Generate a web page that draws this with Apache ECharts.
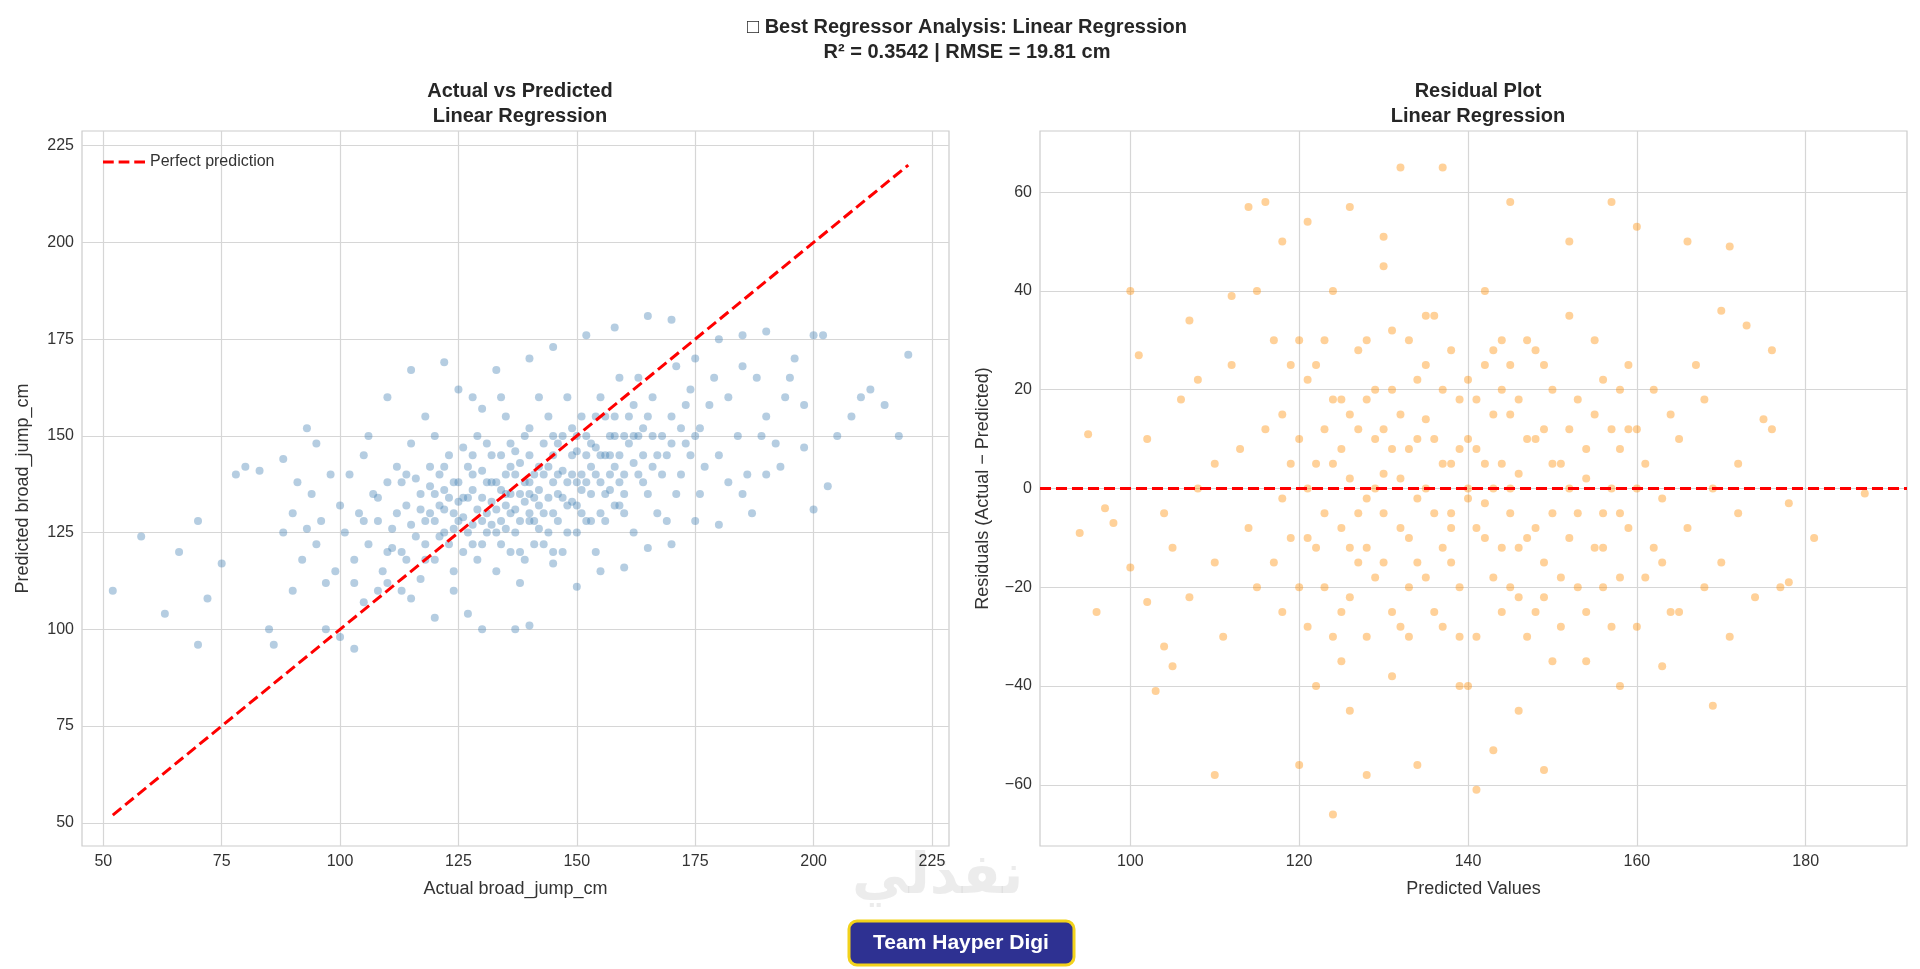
<!DOCTYPE html>
<html>
<head>
<meta charset="utf-8">
<script src="https://cdn.jsdelivr.net/npm/echarts@6/dist/echarts.min.js"></script>
<style>html,body{margin:0;padding:0;background:#fff}#main{width:1920px;height:969px}</style>
</head>
<body>
<div id="main"></div>
<script>
// values: [actual, predicted]
var avp = [
 [52,110],[58,124],[63,104],[66,120],[70,96],[70,128],[72,108],[75,117],[78,140],[80,142],[83,141],[85,100],[86,96],[88,144],[90,110],[93,152],[95,148],[97,100],[100,98],[103,95],[105,107],[108,110],[110,160],[115,167],[122,169],[125,162],[128,160],[130,157],[133,167],[140,170],[145,173],[152,176],[158,178],[165,181],[170,180],[175,170],[180,175],[185,176],[190,177],[195,165],[200,176],[202,176],[203,137],[200,131],[205,150],[210,160],[215,158],[218,150],[220,171],[208,155],[212,162],[198,147],[190,140],[185,135],[180,127],[175,128],[170,122],[165,121],[160,116],[155,115],[150,111],[145,117],[140,101],[137,100],[130,100],[127,104],[124,110],[120,103],[115,108],[113,110],[110,120],
 [88,125],[90,130],[92,118],[94,135],[95,122],[96,128],[98,140],[99,115],[100,132],[97,112],[91,138],[93,126],
 [101,125],[102,140],[103,118],[104,130],[105,145],[106,122],[107,135],[108,128],[109,115],[110,138],[111,126],[112,142],[113,120],[114,132],[115,148],[103,112],[106,150],[110,112],[114,118],[112,130],
 [116,124],[117,135],[118,128],[119,142],[120,118],[121,132],[122,125],[123,145],[124,130],[125,138],[126,120],[127,134],[128,127],[129,150],[130,122],[118,155],[121,140],[124,115],[126,147],[128,136],[117,113],[119,130],[122,136],[125,128],[127,142],[129,118],[123,122],[120,150],[116,139],[130,141],
 [131,130],[132,138],[133,125],[134,145],[135,132],[136,120],[137,140],[138,128],[139,150],[140,135],[141,122],[142,142],[143,130],[144,155],[145,138],[131,148],[133,115],[135,155],[137,125],[139,118],[140,145],[142,132],[144,125],[132,127],[134,136],[136,142],[138,135],[141,128],[143,148],[145,120],[134,160],[138,112],[142,160],[136,130],[140,138],
 [146,140],[147,150],[148,132],[149,145],[150,138],[151,155],[152,128],[153,148],[154,140],[155,160],[156,135],[157,150],[158,142],[159,165],[160,130],[148,160],[150,125],[152,145],[154,120],[156,155],[158,132],[146,128],[149,152],[153,135],[157,140],[160,150],[155,145],[151,140],[147,120],[159,138],
 [161,148],[162,158],[163,140],[164,152],[165,135],[166,160],[167,145],[168,150],[169,128],[170,155],[172,140],[174,162],[175,150],[176,135],[178,158],[180,145],[163,165],[167,130],[171,168],[173,148],[177,142],[179,165],[162,125],[166,142],
 [182,160],[184,150],[186,140],[188,165],[190,155],[192,148],[194,160],[196,170],[198,158],[185,168],[187,130],[193,142],[182,138],[189,150],
 [105,128],[108,134],[111,121],[113,138],[115,127],[117,131],[118,122],[119,137],[120,128],[121,124],[122,131],[123,134],[124,126],[125,133],[126,129],[127,125],[128,140],[129,131],[130,134],[131,125],[132,133],[133,138],[134,128],[135,140],[136,135],[137,131],[138,143],[139,133],[140,128],[141,140],[142,136],[143,140],[144,134],[145,145],[146,135],[147,141],[148,138],[149,133],[150,146],[151,136],[152,150],[153,142],[154,147],[155,138],[156,145],[157,136],[158,150],[159,145],[160,140],[161,155],[162,143],[163,150],[164,145],[165,155],[168,140],[170,148],[172,152],[174,145],
 [114,140],[118,118],[120,135],[122,142],[124,138],[126,134],[128,122],[130,128],[132,145],[134,122],[136,148],[138,120],[140,152],[142,126],[144,142],[146,148],[148,125],[150,132],[152,138],[154,155],[156,128],[158,155],[160,135],[162,150],[164,138],[166,150],[169,145],[171,135],[173,158],[176,152],
 [128,145],[131,138],[133,131],[135,126],[137,146],[139,138],[141,134],[143,122],[145,130],[147,134],[149,140],[151,130],[153,128],[155,130],[157,145],[159,132],[135,135],[140,130],[145,150],[150,150]
];
// [predicted, residual]
var resid = [
 [94,-9],[95,11],[96,-25],[97,-4],[98,-7],[100,40],[100,-16],[101,27],[102,-23],[103,-41],[104,-32],[105,-36],[107,34],[110,-58],[112,39],[114,57],[116,58],[118,50],[120,-56],[121,54],[124,-66],[126,57],[128,-58],[130,51],[132,65],[134,-56],[137,65],[141,-61],[143,-53],[145,58],[149,-57],[152,50],[157,58],[158,-40],[160,53],[163,-36],[166,50],[169,-44],[171,49],[173,33],[176,28],[177,-20],[178,-19],[181,-10],[187,-1],[170,36],[168,-20],[165,-25],[175,14],[172,-5],
 [102,10],[104,-5],[106,18],[108,0],[110,-15],[112,25],[114,-8],[116,12],[118,-25],[119,5],[105,-12],[108,22],[111,-30],[113,8],[115,-20],[117,30],[118,-2],[110,5],[107,-22],[115,40],
 [120,10],[121,-10],[122,25],[123,-20],[124,5],[125,-35],[126,15],[127,-5],[128,30],[129,0],[130,-15],[131,20],[132,-28],[133,8],[134,-2],[135,35],[122,-40],[124,40],[126,-12],[128,18],[130,3],[132,-8],[134,22],[121,0],[123,12],[125,-25],[127,28],[129,-18],[131,-38],[133,-10],[135,14],[126,-45],[130,45],[133,30],[128,-30],
 [136,-5],[137,20],[138,5],[139,-20],[140,10],[141,-30],[142,25],[143,0],[144,-12],[145,15],[146,-22],[147,30],[148,-8],[149,12],[150,-35],[136,35],[138,-15],[140,-40],[142,40],[144,20],[146,3],[148,-25],[137,-28],[139,18],[141,8],[143,-18],[145,-5],[147,10],[149,-15],[138,28],[140,-2],[142,-10],[144,30],[146,-45],[150,20],
 [151,5],[152,-10],[153,18],[154,-25],[155,30],[156,-5],[157,12],[158,-18],[159,25],[160,0],[162,-12],[164,15],[152,35],[154,-35],[156,22],[158,8],[160,-28],[162,20],[163,-2],[165,10],
 [166,-8],[168,18],[170,-15],[172,5],[174,-22],[176,12],[178,-3],[167,25],[169,0],[171,-30],
 [118,15],[119,-10],[120,-20],[121,22],[122,5],[123,-5],[124,18],[125,8],[126,-22],[127,12],[128,-12],[129,20],[130,-5],[131,8],[132,15],[133,-20],[134,-15],[135,0],[136,10],[137,-12],[138,-5],[139,8],[140,22],[141,-8],[142,5],[143,15],[144,-25],[145,0],[146,18],[147,-10],[148,10],[149,-22],[150,5],[151,-18],[152,12],[153,-5],[154,8],[155,-12],[156,-20],[157,0],[158,20],[159,-8],[160,12],[161,-18],
 [117,-15],[119,25],[121,-28],[123,30],[125,18],[127,-15],[129,10],[131,-25],[133,-30],[135,-18],[137,5],[139,-30],[141,18],[143,28],[145,-20],[147,-30],[149,25],[151,-28],[153,-20],[155,15],[157,-28],[159,12],[161,5],[163,-15],[164,-25],[120,30],[124,-30],[128,-2],[132,2],[136,-25],[140,0],[144,5],[148,28],[152,0],[156,-12],
 [122,-12],[126,2],[130,12],[134,10],[138,-8],[142,-3],[146,-12],[150,-5],[154,2],[158,-5],[125,-8],[135,25],[145,25],[139,-40],[131,32]
];

var chart = echarts.init(document.getElementById('main'));
var font = "'Liberation Sans', Arial, sans-serif";
var gridLine = {show:true, lineStyle:{color:'#d6d6d6', width:1.2}};
var lbl = {fontFamily:font, fontSize:16, color:'#333',
    formatter:function(v){return String(v).replace('-','\u2212');}};
function axis(gi, min, max, name, gap, vals){
    return {
        type:'value', gridIndex:gi, min:min, max:max, name:name, nameGap:gap,
        nameLocation:'middle', nameTextStyle:{fontFamily:font, fontSize:18, color:'#333'},
        axisLine:{show:false}, splitLine:gridLine,
        axisTick:{show:false, customValues:vals},
        axisLabel:Object.assign({customValues:vals}, lbl)
    };
}
var t1 = [50,75,100,125,150,175,200,225];

var option = {
    backgroundColor:'#fff',
    textStyle:{fontFamily:font},
    title:[
        {text:'\u25a1 Best Regressor Analysis: Linear Regression\nR\u00b2 = 0.3542 | RMSE = 19.81 cm', left:962, top:10, textAlign:'center',
         textStyle:{fontSize:20, fontWeight:'bold', color:'#262626', lineHeight:25, fontFamily:font}},
        {text:'Actual vs Predicted\nLinear Regression', left:515, top:74, textAlign:'center',
         textStyle:{fontSize:20, fontWeight:'bold', color:'#262626', lineHeight:25, fontFamily:font}},
        {text:'Residual Plot\nLinear Regression', left:1473, top:74, textAlign:'center',
         textStyle:{fontSize:20, fontWeight:'bold', color:'#262626', lineHeight:25, fontFamily:font}}
    ],
    legend:{data:[{name:'Perfect prediction', icon:'path://M0,0h11v3h-11zM16,0h11v3h-11zM32,0h11v3h-11z'}],
        left:98, top:149, itemWidth:42, itemHeight:3, itemGap:10, textStyle:{fontSize:16, color:'#333'}},
    grid:[
        {left:82, top:131, width:867, height:715, show:true, borderColor:'#cccccc', borderWidth:1.2},
        {left:1040, top:131, width:867, height:715, show:true, borderColor:'#cccccc', borderWidth:1.2}
    ],
    xAxis:[
        axis(0, 45.5, 228.6, 'Actual broad_jump_cm', 34, t1),
        axis(1, 89.3, 192, 'Predicted Values', 34, [100,120,140,160,180])
    ],
    yAxis:[
        axis(0, 44, 228.8, 'Predicted broad_jump_cm', 50, t1),
        axis(1, -72.4, 72.4, 'Residuals (Actual \u2212 Predicted)', 48, [-60,-40,-20,0,20,40,60])
    ],
    series:[
        {type:'scatter', xAxisIndex:0, yAxisIndex:0, data:avp, symbolSize:8,
         itemStyle:{color:'rgba(70,130,180,0.5)'}, z:2},
        {name:'Perfect prediction', type:'line', xAxisIndex:0, yAxisIndex:0, data:[[52,52],[220,220]],
         symbol:'none', lineStyle:{color:'#ff0000', width:3, type:[11,5]}, itemStyle:{color:'#ff0000'}, z:3},
        {type:'scatter', xAxisIndex:1, yAxisIndex:1, data:resid, symbolSize:8,
         itemStyle:{color:'rgba(255,140,0,0.5)'}, z:2,
         markLine:{silent:true, symbol:'none', label:{show:false},
            lineStyle:{color:'#ff0000', width:3, type:[11,5]}, data:[{yAxis:0}]}}
    ],
    graphic:[
        {type:'text', left:852, top:850, style:{text:'\u0646\u0641\u0630\u0644\u064a', font:'bold 56px "DejaVu Sans"', fill:'rgba(200,200,200,0.35)'}},
        {type:'text', left:866, top:932, style:{text:'nafezly.com', font:'bold 28px "DejaVu Sans"', fill:'rgba(190,190,190,0.4)'}},
        {type:'rect', shape:{x:849, y:921, width:225, height:44, r:8},
         style:{fill:'#2e3192', stroke:'#f2d21b', lineWidth:3}, z:10},
        {type:'text', x:961, y:943, z:11, style:{text:'Team Hayper Digi', font:'bold 21px "Liberation Sans"', fill:'#fff', align:'center', verticalAlign:'middle'}}
    ]
};
chart.setOption(option);
</script>
</body>
</html>
